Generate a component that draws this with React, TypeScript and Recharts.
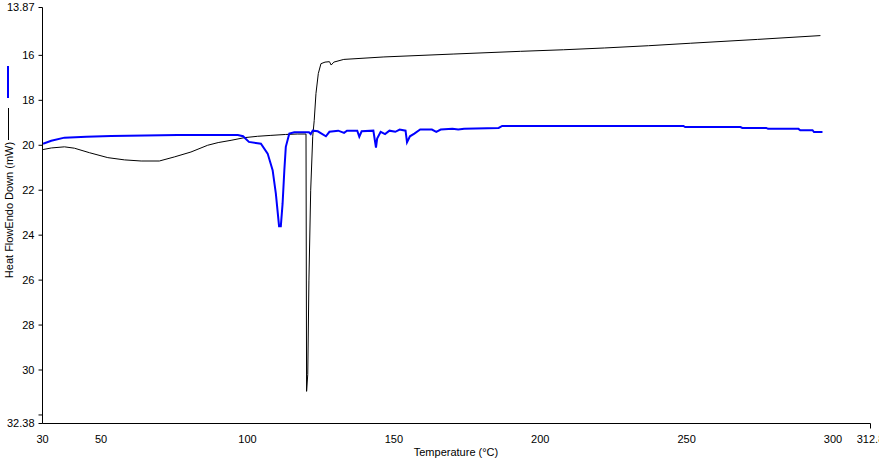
import React from 'react'
import { Line, LineChart, XAxis, YAxis } from 'recharts'

// black trace (temperature in °C, heat flow in mW)
const blackTemps = [
    30.2, 33, 37.5, 40.9, 46, 52.3, 58, 63.7, 69.9, 75, 80.7, 86.4, 90, 94.4, 99, 103.5,
    108, 113, 117, 120.0, 120.2, 120.6, 121.0, 121.6, 122.3, 122.8, 123.4, 124.2, 125.1,
    126.5, 128, 128.6, 129.5, 132.9, 146.6, 170.5, 193.3, 208, 222, 237, 251.4, 274.2, 295.7,
]
const blackFlow = [
    20.19, 20.12, 20.07, 20.13, 20.33, 20.55, 20.65, 20.7, 20.7, 20.52, 20.3, 20.0, 19.88, 19.78, 19.66, 19.6,
    19.56, 19.52, 19.5, 19.5, 30.95, 30.2, 26.0, 22.0, 19.6, 18.9, 17.7, 16.81, 16.37,
    16.3, 16.28, 16.43, 16.3, 16.18, 16.07, 15.94, 15.82, 15.75, 15.67, 15.57, 15.46, 15.29, 15.12,
]

// blue trace
const blueTemps = [
    30.2, 33, 37.5, 45, 53.4, 65, 76.2, 96.7, 98.5, 100.5, 104.6, 106.9, 108.6, 109.7,
    110.8, 111.4, 112, 112.6, 113.1, 114.3, 116, 121, 121.6, 122.3, 124, 126.8, 128, 131,
    133, 134, 137.5, 138.2, 139, 143, 143.9, 144.3, 145.5, 147, 148.5, 150.5, 152, 154,
    154.5, 155.5, 157, 159, 163, 164.5, 166, 170, 172, 174, 185.8, 187, 248.9, 249.5,
    268.4, 269, 277.2, 277.8, 288.2, 288.8, 293, 293.5, 296.4,
]
const blueFlow = [
    19.93, 19.8, 19.66, 19.62, 19.59, 19.56, 19.54, 19.54, 19.6, 19.85, 19.93, 20.37, 21.11, 22.15,
    23.6, 23.6, 22.6, 21.11, 20.07, 19.48, 19.42, 19.42, 19.5, 19.35, 19.38, 19.6, 19.4, 19.35,
    19.45, 19.35, 19.35, 19.62, 19.38, 19.35, 20.1, 19.7, 19.4, 19.5, 19.35, 19.4, 19.3, 19.35,
    19.87, 19.6, 19.48, 19.3, 19.3, 19.4, 19.3, 19.26, 19.3, 19.26, 19.23, 19.14, 19.14, 19.19,
    19.19, 19.23, 19.23, 19.27, 19.27, 19.33, 19.33, 19.41, 19.41,
]

const xTicks = [30, 50, 100, 150, 200, 250, 300, 312.8]
const yTicks = [13.87, 16, 18, 20, 22, 24, 26, 28, 30, 32, 32.38]
const unlabelledY = [32]

const toPoints = (temps: number[], flows: number[]) =>
    temps.map((t, i) => ({ temp: t, flow: flows[i] }))

const blackData = toPoints(blackTemps, blackFlow)
const blueData = toPoints(blueTemps, blueFlow)

const XTick = ({ x, y, payload }: any) => (
    <g>
        {payload.value === xTicks[xTicks.length - 1] && (
            <line x1={x} x2={x} y1={y - 12} y2={y - 7} stroke="#000" />
        )}
        <text x={x} y={y} dy="0.71em" textAnchor="middle" fontSize={11} fill="#000">
            {payload.value}
        </text>
    </g>
)

// y title plus the little line legend to the left of the axis
const YTitle = () => (
    <g>
        <line x1={8} x2={8} y1={66} y2={98} stroke="#0000ff" strokeWidth={2} />
        <line x1={8.5} x2={8.5} y1={108} y2={140} stroke="#000" strokeWidth={1} />
        <text
            x={8.5}
            y={210}
            transform="rotate(-90, 8.5, 210)"
            textAnchor="middle"
            dominantBaseline="central"
            fontSize={11}
            fill="#000"
        >
            Heat FlowEndo Down (mW)
        </text>
    </g>
)

const XTitle = () => (
    <text x={456} y={452} textAnchor="middle" dominantBaseline="central" fontSize={11} fill="#000">
        Temperature (°C)
    </text>
)

const App = () => {
    return (
        <div
            style={{
                position: 'absolute',
                left: 0,
                top: 0,
                width: 879,
                height: 459,
                background: '#fff',
                fontFamily: '"Liberation Sans", Arial, sans-serif',
            }}
        >
            <LineChart width={879} height={459} margin={{ top: 7.5, right: 8.5, bottom: 0, left: 0.5 }}>
                <XAxis
                    type="number"
                    dataKey="temp"
                    domain={[30, 312.8]}
                    ticks={xTicks}
                    interval={0}
                    height={35.5}
                    tickLine={false}
                    tickSize={4}
                    tickMargin={8}
                    tick={<XTick />}
                    axisLine={{ stroke: '#000' }}
                    label={<XTitle />}
                    allowDataOverflow
                />
                <YAxis
                    type="number"
                    dataKey="flow"
                    domain={[13.87, 32.38]}
                    reversed={true}
                    ticks={yTicks}
                    interval={0}
                    width={42}
                    tickSize={4}
                    tickMargin={4}
                    tick={{ fill: '#000', fontSize: 11 }}
                    tickLine={{ stroke: '#000' }}
                    axisLine={{ stroke: '#000' }}
                    tickFormatter={(v: number) => (unlabelledY.includes(v) ? '' : String(v))}
                    label={<YTitle />}
                    allowDataOverflow
                />
                <Line
                    data={blackData}
                    type="linear"
                    dataKey="flow"
                    stroke="#000"
                    strokeWidth={1}
                    dot={false}
                    isAnimationActive={false}
                />
                <Line
                    data={blueData}
                    type="linear"
                    dataKey="flow"
                    stroke="#0000ff"
                    strokeWidth={2}
                    dot={false}
                    isAnimationActive={false}
                />
            </LineChart>
        </div>
    )
}

export default App
